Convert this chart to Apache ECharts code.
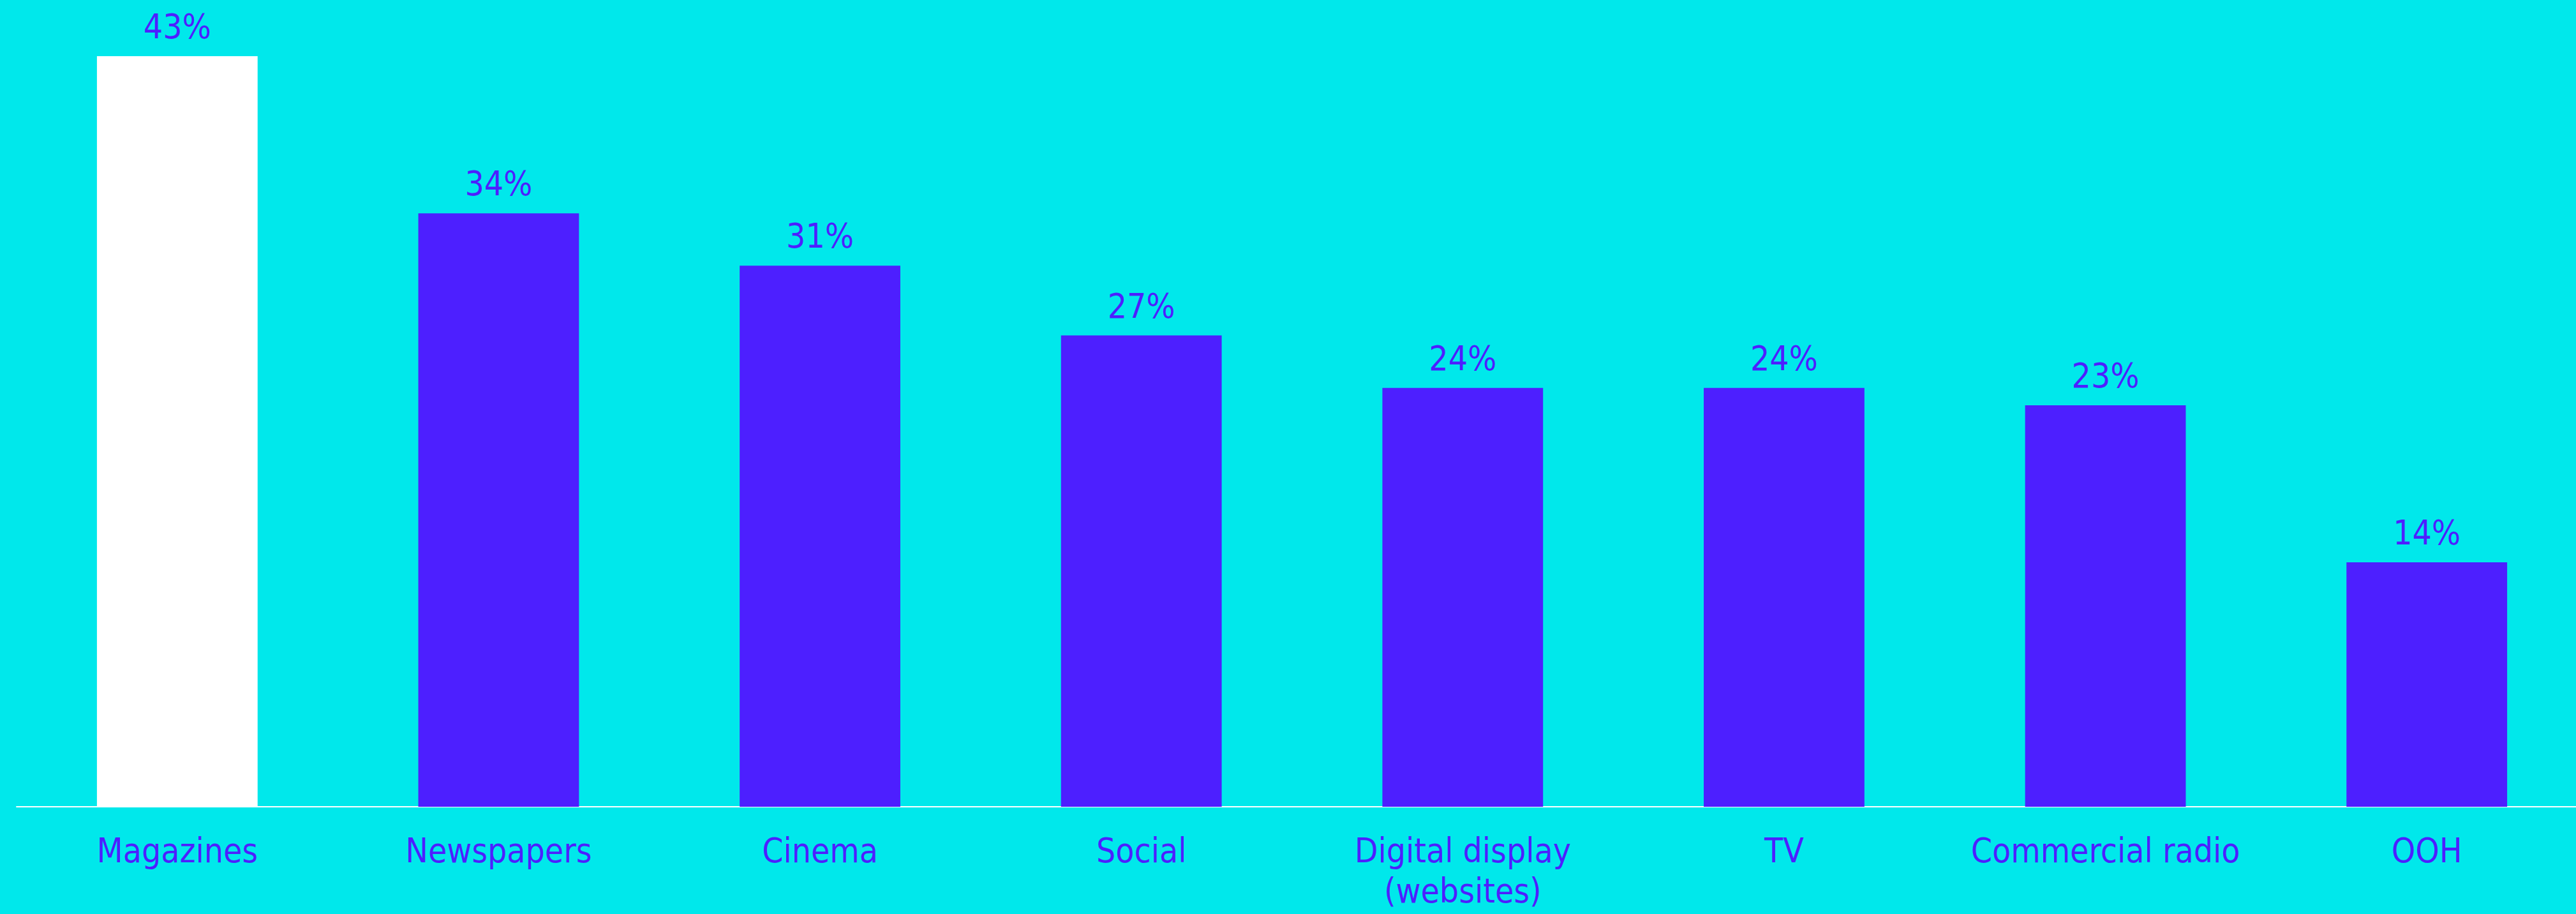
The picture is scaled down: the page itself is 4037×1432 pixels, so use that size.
<!DOCTYPE html>
<html>
<head>
<meta charset="utf-8">
<script src="https://cdn.jsdelivr.net/npm/echarts@6/dist/echarts.min.js"></script>
<style>
  html, body { margin: 0; padding: 0; background: #00E8EB; overflow: hidden; }
  /* the plot runs slightly past the right edge of the page, so the last bar sits in a clipped column */
  #chart { width: 4055px; height: 1432px; }
</style>
</head>
<body>
<div id="chart"></div>
<script>
// Share of respondents per media channel (%)
const categories = ['Magazines', 'Newspapers', 'Cinema', 'Social', 'Digital display\n(websites)', 'TV', 'Commercial radio', 'OOH'];
const values = [43, 34, 31, 27, 24, 24, 23, 14];
const highlighted = ['Magazines'];

const BG = '#00E8EB';
const PURPLE = '#4D1FFF';
const FONT = '"DejaVu Sans Condensed", "DejaVu Sans", sans-serif';

const chart = echarts.init(document.getElementById('chart'), null, { renderer: 'canvas' });

chart.setOption({
  backgroundColor: BG,
  animation: false,
  grid: { left: 26, right: 0, top: 88, bottom: 167, containLabel: false },
  xAxis: {
    type: 'category',
    data: categories,
    axisLine: { show: true, lineStyle: { color: '#FFFFFF', width: 2 } },
    axisTick: { show: false },
    axisLabel: {
      color: PURPLE,
      fontFamily: FONT,
      fontSize: 53,
      lineHeight: 63,
      margin: 42,
      interval: 0
    }
  },
  yAxis: {
    type: 'value',
    min: 0,
    max: 43,
    show: false,
    splitLine: { show: false }
  },
  series: [{
    type: 'bar',
    barWidth: '50%',
    data: values.map((v, i) => ({
      value: v,
      itemStyle: { color: highlighted.includes(categories[i]) ? '#FFFFFF' : PURPLE }
    })),
    label: {
      show: true,
      position: 'top',
      distance: 15,
      color: PURPLE,
      fontFamily: FONT,
      fontSize: 53,
      formatter: p => p.value + '%'
    }
  }]
});
</script>
</body>
</html>
